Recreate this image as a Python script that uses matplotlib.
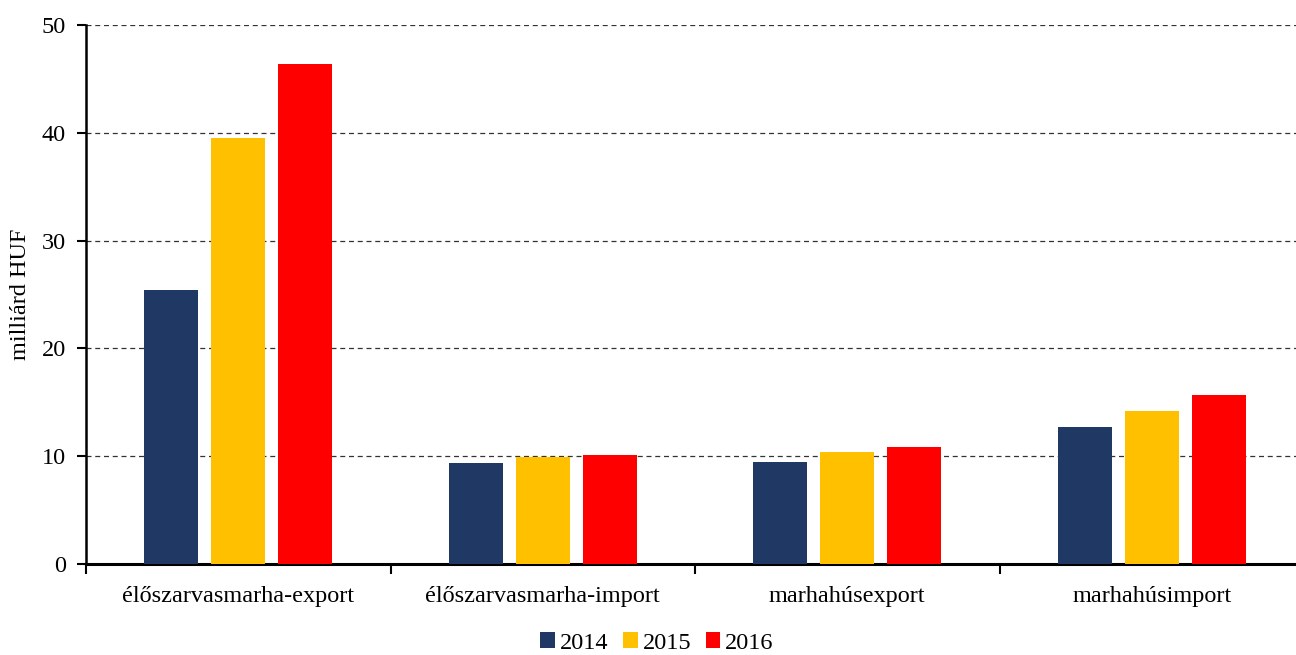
import numpy as np
import matplotlib.pyplot as plt

categories = ["élőszarvasmarha-export", "élőszarvasmarha-import", "marhahúsexport", "marhahúsimport"]
years = ["2014", "2015", "2016"]
v2014 = [25.4, 9.35, 9.45, 12.75]
v2015 = [39.5, 9.95, 10.35, 14.2]
v2016 = [46.35, 10.1, 10.85, 15.65]
colors = ["#203864", "#FFC000", "#FF0000"]

plt.rcParams['font.family'] = ['Liberation Serif', 'DejaVu Serif']
fs = 17.5

W, H = 1296, 655
fig = plt.figure(figsize=(W / 100, H / 100), dpi=100)
ax = fig.add_axes([86 / W, 1 - 564 / H, 1218 / W, 539 / H])

x = np.arange(len(categories))
width = 0.177
step = 0.22
for i, (vals, c, yr) in enumerate(zip([v2014, v2015, v2016], colors, years)):
    ax.bar(x + (i - 1) * step, vals, width, color=c, label=yr, zorder=3)

ax.set_xlim(-0.5, 3.5)
ax.set_ylim(0, 50)
ax.set_yticks([0, 10, 20, 30, 40, 50])
ax.yaxis.grid(True, linestyle=(0, (4, 3)), color='#333333', linewidth=0.9, zorder=1)
ax.set_axisbelow(True)

ax.set_xticks(np.arange(-0.5, 4, 1))
ax.set_xticklabels([])
ax.set_xticks(x, minor=True)
ax.set_xticklabels(categories, minor=True)
ax.tick_params(axis='x', which='minor', length=0, pad=16, labelsize=fs)
ax.tick_params(axis='x', which='major', length=7, width=1.5, direction='out')
ax.tick_params(axis='y', length=6.5, width=1.5, labelsize=fs, pad=8)

for s in ['top', 'right']:
    ax.spines[s].set_visible(False)
ax.spines['left'].set_linewidth(1.8)
ax.spines['bottom'].set_linewidth(2.2)

ax.set_ylabel("milliárd HUF", fontsize=fs, labelpad=8)

leg = fig.legend(loc='center', bbox_to_anchor=(657 / W, 1 - 643 / H), ncol=3, frameon=False,
                 fontsize=fs, handlelength=0.6, handleheight=0.6, handletextpad=0.2, columnspacing=0.6)

fig.savefig("out.png", dpi=100)
